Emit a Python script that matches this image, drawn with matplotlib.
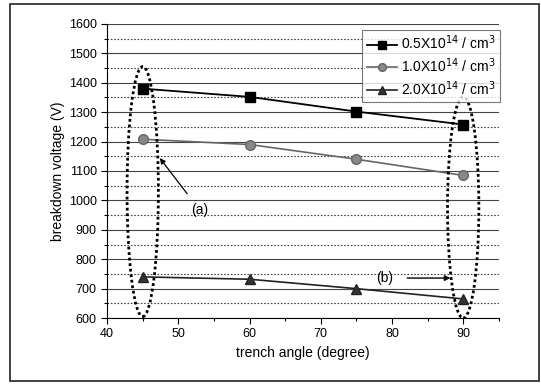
import matplotlib
matplotlib.use("Agg")
import matplotlib.pyplot as plt
from matplotlib.patches import Ellipse, Rectangle
from matplotlib.ticker import MultipleLocator

plt.rcParams['font.family'] = ['Liberation Sans', 'DejaVu Sans']

angles = [45, 60, 75, 90]
v_05 = [1380, 1352, 1302, 1258]
v_10 = [1208, 1190, 1140, 1085]
v_20 = [740, 732, 700, 665]
labels = [r'0.5X10$^{14}$ / cm$^{3}$', r'1.0X10$^{14}$ / cm$^{3}$', r'2.0X10$^{14}$ / cm$^{3}$']

fig = plt.figure(figsize=(5.41, 3.86), dpi=100)
fig.patches.append(Rectangle((0.018, 0.012), 0.978, 0.978, transform=fig.transFigure,
                             fill=False, edgecolor='#222222', linewidth=1.2))
ax = fig.add_axes([0.198, 0.176, 0.724, 0.762])

ax.plot(angles, v_05, color='black', lw=1.3, marker='s', ms=7, mfc='black', mec='black', label=labels[0])
ax.plot(angles, v_10, color='#666666', lw=1.2, marker='o', ms=7, mfc='#888888', mec='#666666', label=labels[1])
ax.plot(angles, v_20, color='#222222', lw=1.2, marker='^', ms=7, mfc='#333333', mec='#222222', label=labels[2])

ax.set_xlim(40, 95)
ax.set_ylim(600, 1600)
ax.xaxis.set_major_locator(MultipleLocator(10))
ax.xaxis.set_minor_locator(MultipleLocator(5))
ax.yaxis.set_major_locator(MultipleLocator(100))
ax.yaxis.set_minor_locator(MultipleLocator(50))
ax.grid(which='major', axis='y', color='#444444', lw=0.8, ls='-')
ax.grid(which='minor', axis='y', color='#444444', lw=0.8, ls=(0, (1.5, 1.5)))
ax.set_axisbelow(True)
for s in ['top', 'right']:
    ax.spines[s].set_visible(False)
ax.tick_params(which='both', direction='out', labelsize=9, width=0.8)
ax.tick_params(which='major', length=4)
ax.tick_params(which='minor', length=2.5)
ax.set_xlabel('trench angle (degree)', fontsize=10)
ax.set_ylabel('breakdown voltage (V)', fontsize=10, labelpad=3)

# Dotted ellipses grouping the data at 45 and 90 degrees
ax.add_patch(Ellipse((45, 1030), 4.4, 850, fill=False, ls=(0, (1, 1)), lw=2.0, ec='black', zorder=5))
ax.add_patch(Ellipse((90, 976), 4.4, 752, fill=False, ls=(0, (1, 1)), lw=2.0, ec='black', zorder=5))

ax.annotate('(a)', xy=(47.4, 1144), xytext=(53, 967), fontsize=10, ha='center', va='center',
            arrowprops=dict(arrowstyle='-|>', color='black', lw=0.9, shrinkA=6, shrinkB=0,
                            mutation_scale=8))
ax.annotate('(b)', xy=(88.2, 736), xytext=(79, 736), fontsize=10, ha='center', va='center',
            arrowprops=dict(arrowstyle='-|>', color='black', lw=1.0, shrinkA=8, shrinkB=0,
                            mutation_scale=8))

leg = ax.legend(loc='upper right', bbox_to_anchor=(1.01, 0.99), fontsize=10, frameon=True,
                fancybox=False, edgecolor='#555555', handlelength=2.2, borderpad=0.3,
                labelspacing=0.3, handletextpad=0.3, borderaxespad=0.2, markerscale=0.8)
leg.get_frame().set_linewidth(0.8)

fig.savefig('out.png', dpi=100)
